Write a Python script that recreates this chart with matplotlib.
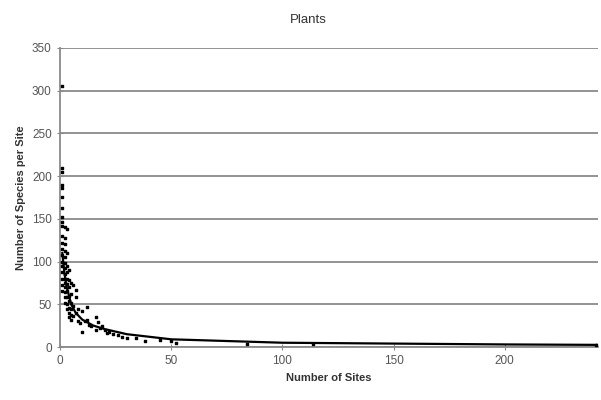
import matplotlib
matplotlib.use("Agg")
import matplotlib.pyplot as plt

plt.rcParams['font.family'] = ['Liberation Sans', 'DejaVu Sans']

# scatter: number of sites vs species per site
site_x = [1, 1, 1, 1, 1, 1, 1, 1, 1, 1, 1, 1, 1, 1, 1, 1, 1, 1, 1, 1,
          2, 2, 2, 2, 2, 2, 2, 2, 2, 2, 2, 2, 2, 2,
          3, 3, 3, 3, 3, 3, 3, 3, 3, 3,
          4, 4, 4, 4, 4, 4, 4, 4,
          5, 5, 5, 5, 5, 5,
          6, 6, 6, 7, 7, 7, 8, 8, 9,
          10, 10, 11, 12, 12, 13, 14, 16, 16, 17, 18, 19, 20, 21,
          22, 24, 26, 28, 30, 34, 38, 45, 50, 52, 84, 114, 241]
species_y = [305, 210, 205, 190, 186, 176, 163, 152, 146, 142, 130, 122, 115,
             108, 100, 95, 88, 80, 72, 66,
             140, 128, 120, 112, 105, 98, 92, 86, 80, 75, 70, 64, 58, 52,
             138, 110, 95, 88, 80, 74, 66, 58, 50, 44,
             90, 78, 70, 60, 54, 46, 40, 35,
             75, 62, 52, 44, 38, 32,
             73, 48, 36, 67, 59, 40, 45, 30, 28,
             42, 17, 30, 47, 32, 26, 24, 35, 20, 29, 22, 24, 20, 16,
             18, 15, 14, 12, 11, 10, 7, 8, 7, 5, 3, 3, 2]

# trend line through the points
line_x = [1, 2, 3, 5, 7, 10, 15, 20, 30, 40, 50, 75, 100, 150, 200, 242]
line_y = [110, 85, 70, 50, 40, 32, 25, 21, 15, 12, 9, 7, 5, 4, 3, 2.5]

fig = plt.figure(figsize=(6.01, 4.0), dpi=100)
ax = fig.add_axes([0.1, 0.1325, 0.895, 0.7475])

ax.scatter(site_x, species_y, s=2.5, marker='s', color='black', zorder=3)
ax.plot(line_x, line_y, color='black', lw=1.6, zorder=3)

ax.set_xlim(0, 242)
ax.set_ylim(0, 350)
ax.set_xticks([0, 50, 100, 150, 200])
ax.set_yticks(range(0, 351, 50))
ax.yaxis.grid(True, color='#8a8a8a', lw=1.3)
ax.set_axisbelow(True)

for s in ['top', 'right']:
    ax.spines[s].set_visible(False)
for s in ['left', 'bottom']:
    ax.spines[s].set_color('#8a8a8a')
    ax.spines[s].set_linewidth(1.3)
ax.tick_params(axis='both', direction='inout', length=5, color='#8a8a8a',
               labelsize=8.5, labelcolor='#555555')

ax.set_xlabel('Number of Sites', fontsize=8, fontweight='bold', color='#333333')
ax.set_ylabel('Number of Species per Site', fontsize=8, fontweight='bold',
              color='#333333')
fig.text(0.513, 0.95, 'Plants', ha='center', va='center', fontsize=9.5,
         color='#333333')

fig.savefig('out.png', dpi=100)
